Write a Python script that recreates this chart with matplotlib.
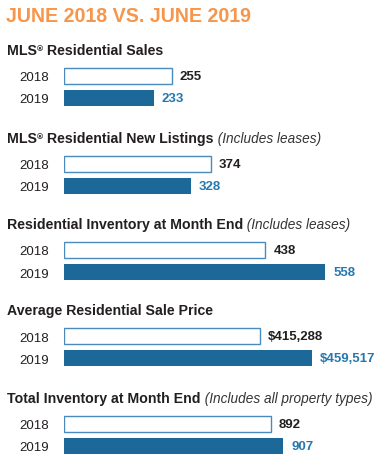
import matplotlib
matplotlib.use("Agg")
import matplotlib.pyplot as plt

W_PX, H_PX = 388, 460
DPI = 100

TITLE = "JUNE 2018 VS. JUNE 2019"

# heading text runs: (prefix with ® mark, bold part, italic note)
headings = [
    ("MLS", " Residential Sales", ""),
    ("MLS", " Residential New Listings", " (Includes leases)"),
    ("", "Residential Inventory at Month End", " (Includes leases)"),
    ("", "Average Residential Sale Price", ""),
    ("", "Total Inventory at Month End", " (Includes all property types)"),
]
years = ["2018", "2019"]
values_2018 = [255, 374, 438, 415288, 892]
values_2019 = [233, 328, 558, 459517, 907]
labels_2018 = ["255", "374", "438", "$415,288", "892"]
labels_2019 = ["233", "328", "558", "$459,517", "907"]
# axis ranges per section (the source graphic does not start its bars at zero)
x_ranges = [(123, 490), (41, 721), (33, 636), (248800, 504000), (648, 1002)]

ORANGE = "#F7964A"
DARK = "#231F20"
BLUE = "#1C6899"
BLUE_TXT = "#2677AD"
OUTLINE = "#4A8BBF"

plt.rcParams["font.family"] = ["Liberation Sans", "DejaVu Sans"]

fig = plt.figure(figsize=(W_PX / DPI, H_PX / DPI), dpi=DPI)
renderer = fig.canvas.get_renderer()


def fx(px):
    return px / W_PX


def fy(py):
    return 1 - py / H_PX


def text_runs(x, y, runs):
    # draw pieces of text one after another on the same baseline (pixel coords)
    for s, dy, kw in runs:
        if not s:
            continue
        t = fig.text(fx(x), fy(y - dy), s, va="baseline", ha="left", **kw)
        x += t.get_window_extent(renderer).width


fig.text(fx(6), fy(22.5), TITLE, color=ORANGE, fontsize=14.1,
         fontweight="bold", va="baseline")

mids = [88, 176, 262, 348, 436]
left_px, width_px = 64, 300
row_px = 22

bold = dict(fontsize=10.2, fontweight="bold", color=DARK)
for i, (reg, main, note) in enumerate(headings):
    base = mids[i] - 33
    runs = []
    if reg:
        runs.append((reg, 0, bold))
        runs.append(("®", 4, dict(fontsize=6, fontweight="bold", color=DARK)))
    runs.append((main, 0, bold))
    runs.append((note, 0, dict(fontsize=9.8, fontstyle="italic", color="#333333")))
    text_runs(7, base, runs)

    ax = fig.add_axes([fx(left_px), fy(mids[i] + row_px), width_px / W_PX,
                       2 * row_px / H_PX])
    x0, x1 = x_ranges[i]
    ax.barh(0, values_2018[i] - x0, left=x0, height=0.72, color="white",
            edgecolor=OUTLINE, linewidth=1.0)
    ax.barh(1, values_2019[i] - x0, left=x0, height=0.76, color=BLUE,
            edgecolor="none")
    ax.annotate(labels_2018[i], (values_2018[i], 0), xytext=(8, 0),
                textcoords="offset pixels", va="center", ha="left",
                fontsize=9.5, fontweight="bold", color=DARK)
    ax.annotate(labels_2019[i], (values_2019[i], 1), xytext=(8, 0),
                textcoords="offset pixels", va="center", ha="left",
                fontsize=9.5, fontweight="bold", color=BLUE_TXT)
    ax.set_xlim(x0, x1)
    ax.set_ylim(1.5, -0.5)
    ax.set_yticks([0, 1])
    ax.set_yticklabels(years, fontsize=9.5, color=DARK)
    ax.tick_params(axis="y", length=0, pad=10.5)
    ax.set_xticks([])
    for sp in ax.spines.values():
        sp.set_visible(False)
    ax.patch.set_alpha(0)

fig.savefig("out.png", dpi=DPI)
